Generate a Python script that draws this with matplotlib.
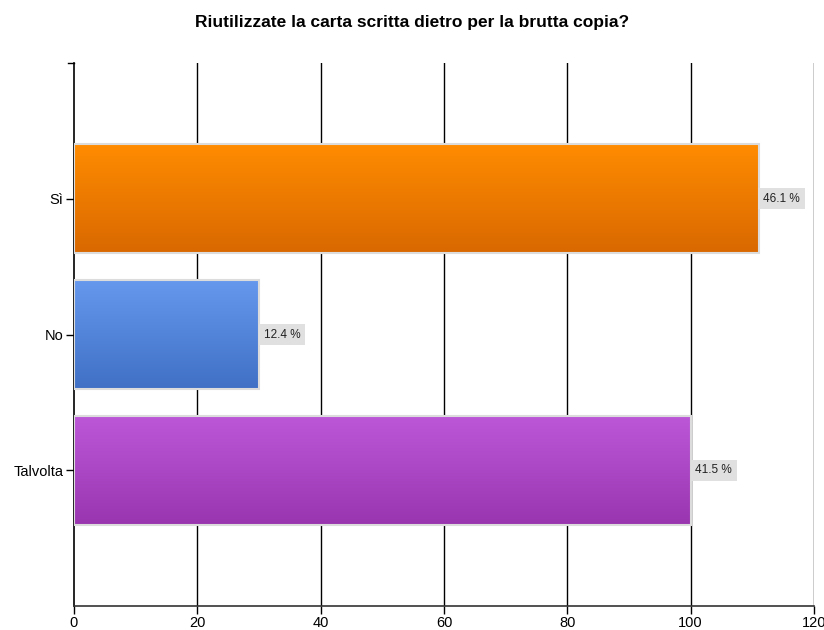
import matplotlib
matplotlib.use("Agg")
import matplotlib.pyplot as plt
import numpy as np
from matplotlib.colors import LinearSegmentedColormap

plt.rcParams['font.family'] = ['Liberation Sans', 'DejaVu Sans']

categories = ["Sì", "No", "Talvolta"]
counts = [111, 30, 100]
percent_labels = ["46.1 %", "12.4 %", "41.5 %"]
top_colors = ["#FF8C00", "#6699EE", "#BC58D8"]
bottom_colors = ["#D96800", "#3F70C6", "#9A35B0"]
xticks = [0, 20, 40, 60, 80, 100, 120]

fig = plt.figure(figsize=(8.24, 6.30), dpi=100)
ax = fig.add_axes([74/824, 1-606/630, 740/824, 543/630])

ax.set_xlim(0, 120)
ax.set_ylim(3, -1)

bar_h = 0.8
ypos = np.arange(len(categories))
for y, v, tc, bc in zip(ypos, counts, top_colors, bottom_colors):
    cmap = LinearSegmentedColormap.from_list("g", [tc, bc])
    grad = np.linspace(0, 1, 256).reshape(-1, 1)
    ax.imshow(grad, extent=[0, v, y + bar_h/2, y - bar_h/2], cmap=cmap,
              aspect='auto', origin='upper', zorder=3, interpolation='bilinear')
    ax.barh(y, v, height=bar_h, facecolor='none', edgecolor='#DCDCDC',
            linewidth=1.5, zorder=4)

for y, v, lab in zip(ypos, counts, percent_labels):
    ax.text(v + 0.75, y, lab, va='center', ha='left', fontsize=8.5, color='#222222',
            zorder=5,
            bbox=dict(boxstyle='square,pad=0.4', facecolor='#E0E0E0', edgecolor='none'))

ax.set_yticks(ypos)
ax.set_yticklabels(categories, fontsize=10.5)
ax.set_xticks(xticks)
ax.set_xticklabels([str(t) for t in xticks], fontsize=10.5)
ax.tick_params(axis='both', direction='out', length=5.5, width=1, color='black')
ax.tick_params(axis='x', pad=2)
ax.tick_params(axis='y', pad=2)

for t in xticks[1:]:
    ax.axvline(t, color='black', linewidth=1, zorder=1)

ax.spines['top'].set_visible(False)
ax.spines['right'].set_visible(False)
ax.spines['left'].set_linewidth(1.2)
ax.spines['bottom'].set_linewidth(1.2)
ax.spines['bottom'].set_color('#333333')

# small tick at top of y axis
ax.plot([-1.0, 0], [-1, -1], color='black', linewidth=1, clip_on=False, zorder=6)

fig.text(0.5, 1-22/630, "Riutilizzate la carta scritta dietro per la brutta copia?",
         fontsize=12.5, fontweight='bold', ha='center', va='center')

fig.savefig("out.png", dpi=100, facecolor='white')
